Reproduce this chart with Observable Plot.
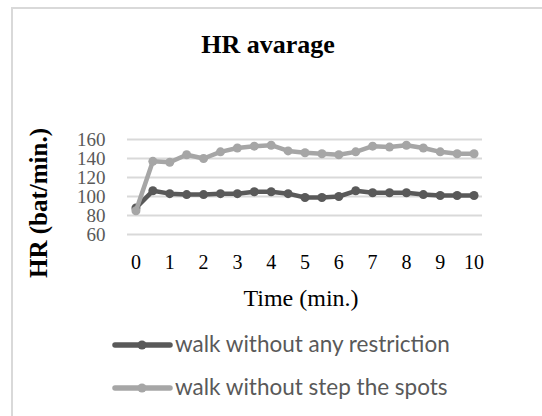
<!DOCTYPE html>
<html>
<head>
<meta charset="utf-8">
<script src="https://cdn.jsdelivr.net/npm/d3@7"></script>
<script src="https://cdn.jsdelivr.net/npm/@observablehq/plot@0.6"></script>
<style>
  html, body { margin: 0; padding: 0; background: #fff; }
  #wrap { position: relative; width: 542px; height: 416px; overflow: hidden; background: #fff; }
  #wrap > svg { position: absolute; left: 0; top: 0; }
</style>
</head>
<body>
<div id="wrap"></div>
<script>
// ---- data ----
const times = [0, 0.5, 1, 1.5, 2, 2.5, 3, 3.5, 4, 4.5, 5, 5.5, 6, 6.5, 7, 7.5, 8, 8.5, 9, 9.5, 10];
const hrNoRestriction = [88, 106, 103, 102, 102, 103, 103, 105, 105, 103, 99, 99, 100, 106, 104, 104, 104, 102, 101, 101, 101];
const hrNoSpots = [85, 137, 136, 144, 140, 147, 151, 153, 154, 148, 146, 145, 144, 147, 153, 152, 154, 151, 147, 145, 145];
const seriesNames = ["walk without any restriction", "walk without step the spots"];
const seriesColors = ["#595959", "#a6a6a6"];
const xTicks = [0, 1, 2, 3, 4, 5, 6, 7, 8, 9, 10];
const yTicks = [60, 80, 100, 120, 140, 160];
const chartTitle = "HR avarage";
const xTitle = "Time (min.)";
const yTitle = "HR (bat/min.)";

const rowsA = times.map((t, i) => ({t, v: hrNoRestriction[i]}));
const rowsB = times.map((t, i) => ({t, v: hrNoSpots[i]}));

const W = 542, H = 416;
const serif = "Liberation Serif, Times New Roman, serif";

const plot = Plot.plot({
  width: W,
  height: H,
  marginLeft: 127,
  marginRight: 60,
  marginTop: 139,
  marginBottom: H - 234,
  style: {background: "transparent", fontFamily: serif, overflow: "visible"},
  x: {domain: [-0.25, 10.25]},
  y: {domain: [60, 160]},
  marks: [
    Plot.gridY(yTicks, {stroke: "#d9d9d9", strokeOpacity: 1, strokeWidth: 2}),
    Plot.axisY(yTicks, {tickSize: 0, tickPadding: 22, fontSize: 19, fontFamily: serif, fill: "#595959", label: null}),
    Plot.axisX(xTicks, {tickSize: 0, tickPadding: 20, fontSize: 20, fontFamily: serif, fill: "#000", label: null}),
    Plot.line(rowsA, {x: "t", y: "v", stroke: seriesColors[0], strokeWidth: 4.5}),
    Plot.dot(rowsA, {x: "t", y: "v", r: 4.5, fill: seriesColors[0], stroke: "none"}),
    Plot.line(rowsB, {x: "t", y: "v", stroke: seriesColors[1], strokeWidth: 4.5}),
    Plot.dot(rowsB, {x: "t", y: "v", r: 4.5, fill: seriesColors[1], stroke: "none"})
  ]
});

const wrap = document.getElementById("wrap");
wrap.appendChild(plot);

// overlay: border, titles, legend
const svg = d3.select(wrap).append("svg")
  .attr("width", W).attr("height", H)
  .style("pointer-events", "none");

svg.append("rect")
  .attr("x", 12).attr("y", 8).attr("width", 600).attr("height", 500)
  .attr("fill", "none").attr("stroke", "#d9d9d9").attr("stroke-width", 2);

svg.append("text")
  .attr("x", 268).attr("y", 53)
  .attr("text-anchor", "middle")
  .style("font-family", serif).style("font-weight", "bold").style("font-size", "26px")
  .attr("fill", "#000")
  .text(chartTitle);

svg.append("text")
  .attr("transform", "translate(47,203) rotate(-90)")
  .attr("text-anchor", "middle")
  .style("font-family", serif).style("font-weight", "bold").style("font-size", "25px")
  .attr("fill", "#000")
  .text(yTitle);

svg.append("text")
  .attr("x", 301).attr("y", 306)
  .attr("text-anchor", "middle")
  .style("font-family", serif).style("font-size", "24px")
  .attr("fill", "#000")
  .text(xTitle);

const legendY = [345, 388];
seriesNames.forEach((name, i) => {
  const g = svg.append("g").attr("transform", `translate(0,${legendY[i]})`);
  g.append("line").attr("x1", 115).attr("x2", 170).attr("y1", 0).attr("y2", 0)
    .attr("stroke", seriesColors[i]).attr("stroke-width", 5.5).attr("stroke-linecap", "round");
  g.append("circle").attr("cx", 142).attr("cy", 0).attr("r", 4.5).attr("fill", seriesColors[i]);
  g.append("text").attr("x", 175).attr("y", 7)
    .style("font-family", "Lato, Open Sans, sans-serif").style("font-size", "22.5px")
    .attr("fill", "#595959")
    .text(name);
});
</script>
</body>
</html>
